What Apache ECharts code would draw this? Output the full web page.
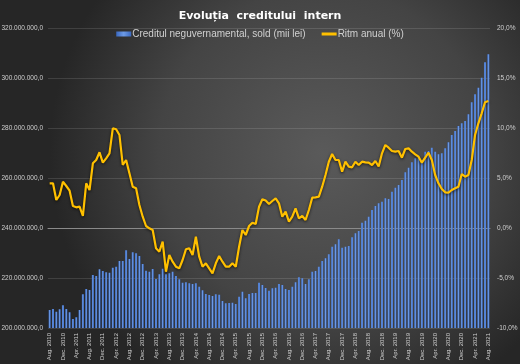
<!DOCTYPE html>
<html><head><meta charset="utf-8">
<script src="https://cdn.jsdelivr.net/npm/echarts@6/dist/echarts.min.js"></script>
<style>html,body{margin:0;padding:0;background:#333;}#c{width:520px;height:364px;}</style>
</head><body><div id="c"></div>
<script>
// Monthly categories Aug 2010 .. Aug 2021
const monthNames = ['Jan.','Feb.','Mar.','Apr.','May.','Jun.','Jul.','Aug.','Sep.','Oct.','Nov.','Dec.'];
const categories = [];
for (let y = 2010, m = 7; y < 2021 || (y === 2021 && m <= 7); ) {
  categories.push(monthNames[m] + ' ' + y);
  m++; if (m > 11) { m = 0; y++; }
}
// Creditul neguvernamental, sold (in millions of "mii lei")
const creditMillions = [
207.2,207.6,206.5,207.5,209.1,207.6,206.3,203.6,204.3,207.2,213.5,215.6,215.2,221.2,220.8,223.5,222.8,222.3,222.1,224.1,
224.5,226.8,226.8,231.1,227.6,230.3,229.9,228.8,225.6,222.9,222.5,223.6,219.6,221.5,223.7,221.5,221.9,222.5,220.8,219.5,
218.1,218.3,217.9,217.6,217.9,216.5,215.1,213.6,213.2,212.8,213.5,213.3,210.8,209.9,210.0,210.1,209.6,212.5,214.5,211.9,
213.6,214.0,214.0,218.1,217.2,216.0,214.9,215.9,216.1,217.6,217.2,215.6,215.2,216.5,218.3,220.3,219.9,217.6,219.5,222.5,
222.8,224.5,226.8,227.9,229.5,232.5,233.5,235.5,232.1,232.5,232.8,236.3,237.9,238.8,242.1,242.9,244.5,247.2,248.8,249.9,
250.5,251.9,251.6,254.5,256.1,257.2,259.2,262.3,264.1,266.3,267.9,268.8,267.2,270.5,270.8,272.1,270.5,269.5,269.9,271.9,
274.3,277.2,278.8,280.8,281.9,282.8,285.5,290.3,293.5,296.1,300.1,306.3,309.5
];
// Ritm anual (%)
const ritmAnual = [
4.47,4.47,2.8,3.3,4.63,4.2,3.73,2.2,2.07,2.13,1.2,4.47,3.8,6.47,6.8,7.57,6.53,6.97,7.47,9.97,
9.87,9.3,6.3,6.8,5.47,4.13,3.97,2.3,1.13,0.2,-0.03,-0.2,-2.03,-2.37,-1.37,-4.37,-2.7,-3.37,-3.87,-4.03,
-3.2,-2.13,-2.03,-2.7,-0.87,-2.87,-3.87,-3.53,-4.03,-4.53,-3.53,-2.8,-3.37,-3.87,-3.87,-3.53,-3.87,-1.87,-0.2,-0.7,
0.2,0.53,0.4,2.13,2.87,2.75,2.4,2.7,2.97,2.47,1.13,1.63,0.63,1.13,1.97,0.97,1.2,0.8,1.8,3.03,
3.07,3.13,4.13,5.3,6.63,7.4,6.8,6.8,5.63,6.63,6.13,6.07,6.63,6.3,6.63,6.57,6.53,6.3,6.7,6.15,
7.47,8.3,8.03,7.7,7.63,7.7,7.03,7.9,7.97,7.63,7.37,7.13,6.53,7.03,7.53,6.8,5.3,4.47,3.9,3.57,
3.53,3.8,3.97,4.13,5.4,5.13,5.3,6.8,9.3,10.47,11.47,12.57,12.7
];
const creditValues = creditMillions.map(v => Math.round(v * 1e6));

function fmtLeft(v) {
  const s = Math.round(v).toString().replace(/\B(?=(\d{3})+(?!\d))/g, '.');
  return s + ',0';
}
function fmtRight(v) { return v.toFixed(1).replace('.', ',') + '%'; }

const chart = echarts.init(document.getElementById('c'));
const txt = '#d0d0d0';
chart.setOption({
  animation: false,
  backgroundColor: {
    type: 'radial', x: 0.62, y: 0.42, r: 0.75,
    colorStops: [{offset: 0, color: '#5a5a5a'}, {offset: 0.6, color: '#444444'}, {offset: 1, color: '#262626'}]
  },
  textStyle: {fontFamily: 'Liberation Sans, Arial, sans-serif'},
  title: {
    text: 'Evoluția  creditului  intern', left: 'center', top: 6,
    textStyle: {color: '#ffffff', fontSize: 11, fontWeight: 'bold', fontFamily: 'DejaVu Sans, sans-serif'}
  },
  legend: {
    top: 24, left: 'center', itemGap: 16, itemWidth: 15, itemHeight: 5,
    textStyle: {color: txt, fontSize: 10, padding: [0, 0, 0, -4]},
    data: [
      {name: 'Creditul neguvernamental, sold (mii lei)', icon: 'rect'},
      {name: 'Ritm anual (%)', icon: 'path://M0,0 L10,0 L10,2 L0,2 Z'}
    ]
  },
  grid: {left: 48, right: 30, top: 28, bottom: 36, containLabel: false, outerBoundsMode: 'none'},
  xAxis: {
    type: 'category', data: categories, boundaryGap: true,
    axisLine: {lineStyle: {color: '#8a8a8a'}},
    axisTick: {interval: 3, alignWithLabel: true, length: 3, lineStyle: {color: '#8a8a8a'}},
    axisLabel: {interval: 3, rotate: 90, fontSize: 6, color: txt, margin: 5}
  },
  yAxis: [
    {type: 'value', min: 200000000, max: 320000000, interval: 20000000,
     axisLabel: {formatter: fmtLeft, fontSize: 6.5, color: txt, margin: 5},
     axisLine: {show: false}, axisTick: {show: false},
     splitLine: {lineStyle: {color: 'rgba(255,255,255,0.12)'}}},
    {type: 'value', min: -10, max: 20, interval: 5,
     axisLabel: {formatter: fmtRight, fontSize: 6.5, color: txt, margin: 7},
     axisLine: {show: false}, axisTick: {show: false}, splitLine: {show: false}}
  ],
  series: [
    {name: 'Creditul neguvernamental, sold (mii lei)', type: 'bar', data: creditValues,
     barWidth: '62%',
     itemStyle: {color: {type: 'linear', x: 0, y: 0, x2: 1, y2: 0,
       colorStops: [{offset: 0, color: '#3a68c0'}, {offset: 0.5, color: '#6d9be6'}, {offset: 1, color: '#3a68c0'}]}}},
    {name: 'Ritm anual (%)', type: 'line', yAxisIndex: 1, data: ritmAnual,
     symbol: 'none', itemStyle: {color: '#ffc000'},
     lineStyle: {color: '#ffc000', width: 2.2, shadowColor: 'rgba(0,0,0,0.7)', shadowBlur: 3, shadowOffsetY: 1}}
  ]
});
</script></body></html>
